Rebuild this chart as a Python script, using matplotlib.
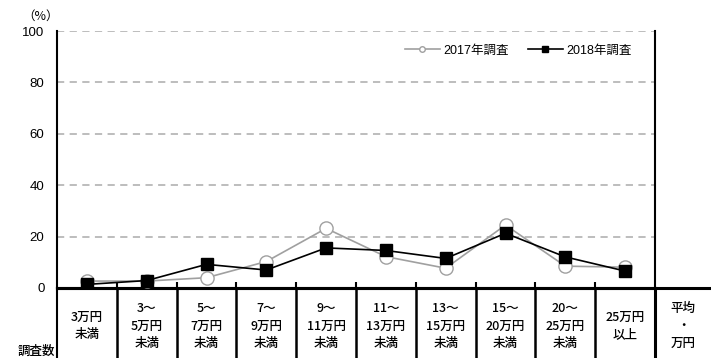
import matplotlib
matplotlib.use("Agg")
import matplotlib.pyplot as plt
from matplotlib.transforms import blended_transform_factory
from matplotlib.lines import Line2D

plt.rcParams['font.family'] = ['Liberation Sans', 'Noto Sans CJK JP', 'DejaVu Sans']

categories = ["3万円\n未満", "3～\n5万円\n未満", "5～\n7万円\n未満", "7～\n9万円\n未満",
              "9～\n11万円\n未満", "11～\n13万円\n未満", "13～\n15万円\n未満",
              "15～\n20万円\n未満", "20～\n25万円\n未満", "25万円\n以上"]
extra_column = "平均\n・\n万円"
row_label = "調査数"
series_2017 = [2.7, 2.7, 4.0, 10.3, 23.2, 12.2, 7.7, 24.5, 8.5, 8.1]
series_2018 = [1.4, 2.9, 9.2, 7.0, 15.6, 14.6, 11.5, 21.3, 12.1, 6.6]
label_2017 = "2017年調査"
label_2018 = "2018年調査"
yticks = [0, 20, 40, 60, 80, 100]

W, H = 711, 358
fig = plt.figure(figsize=(W / 100, H / 100), dpi=100)
ax_left, ax_right, ax_top, ax_bottom = 57, 655, 31, 288
ax = fig.add_axes([ax_left / W, 1 - ax_bottom / H,
                   (ax_right - ax_left) / W, (ax_bottom - ax_top) / H])

x = list(range(len(categories)))
ax.plot(x, series_2017, color="#a0a0a0", lw=1.2, marker="o", ms=9.5,
        mfc="white", mec="#a0a0a0", mew=1.0, zorder=3)
ax.plot(x, series_2018, color="black", lw=1.2, marker="s", ms=8.5,
        mfc="black", mec="black", zorder=4)

ax.set_xlim(-0.5, len(categories) - 0.5)
ax.set_ylim(0, 100)
ax.set_yticks(yticks)
ax.set_yticklabels([str(v) for v in yticks], fontsize=9.5)
ax.tick_params(axis="y", length=0, pad=9)
for v in yticks[1:]:
    ax.axhline(v, color="#b8b8b8", lw=1.3, ls=(0, (4, 3)), zorder=1)

bounds = [i - 0.5 for i in range(1, len(categories))]
ax.set_xticks(bounds)
ax.set_xticklabels([])
ax.tick_params(axis="x", direction="in", length=4, width=1.5, color="black")

ax.spines["top"].set_visible(False)
ax.spines["left"].set_linewidth(1.5)
ax.spines["right"].set_linewidth(1.5)
ax.spines["bottom"].set_linewidth(2.2)

fig.text(41 / W, 1 - 16 / H, "（%）", ha="center", va="center",
         fontsize=9, family=['Noto Sans CJK JP'])

# table below the axis
tr = blended_transform_factory(ax.transData, ax.transAxes)
px = 1 / (ax_bottom - ax_top)
table_bottom = -(H - ax_bottom) * px
right_edge = len(categories) - 0.5 + (W - ax_right) / 59.8
ax.add_line(Line2D([-0.5, right_edge], [0, 0], transform=tr, color="black",
                   lw=2.2, clip_on=False))
for b in bounds:
    ax.add_line(Line2D([b, b], [0, table_bottom], transform=tr, color="black",
                       lw=1.8, clip_on=False))
rb = len(categories) - 0.5
ax.add_line(Line2D([rb, rb], [0, table_bottom], transform=tr, color="black",
                   lw=2.2, clip_on=False))
ax.add_line(Line2D([-0.5, -0.5], [0, table_bottom], transform=tr, color="black",
                   lw=1.5, clip_on=False))

cell_y = -38 * px
for i, lab in enumerate(categories):
    ax.text(i, cell_y, lab, transform=tr, ha="center", va="center", fontsize=9,
            linespacing=1.45, family=['Noto Sans CJK JP'], fontweight="medium")
ax.text((rb + right_edge) / 2, cell_y, extra_column, transform=tr, ha="center",
        va="center", fontsize=9, linespacing=1.45, family=['Noto Sans CJK JP'],
        fontweight="medium")
fig.text(55 / W, 1 - 351 / H, row_label, ha="right", va="center", fontsize=9,
         family=['Noto Sans CJK JP'], fontweight="medium")

handles = [
    Line2D([], [], color="#a0a0a0", lw=1.2, marker="o", ms=4, mfc="white", mec="#a0a0a0"),
    Line2D([], [], color="black", lw=1.2, marker="s", ms=4.5, mfc="black"),
]
ax.legend(handles, [label_2017, label_2018], loc="upper right", ncol=2,
          frameon=False, fontsize=9, bbox_to_anchor=(0.98, 0.99),
          handlelength=2.8, columnspacing=1.5, handletextpad=0.3)

fig.savefig("out.png", dpi=100)
